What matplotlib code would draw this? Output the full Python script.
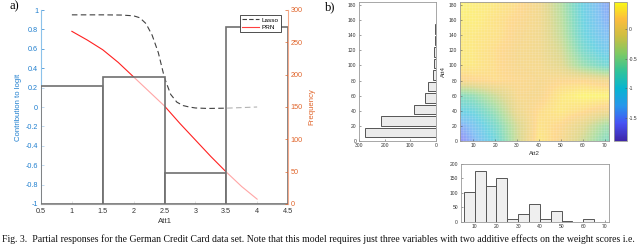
import matplotlib
matplotlib.use('Agg')
import matplotlib.pyplot as plt
import numpy as np
from matplotlib.colors import LinearSegmentedColormap, Normalize
from matplotlib.cm import ScalarMappable
from matplotlib.lines import Line2D
from matplotlib.ticker import MultipleLocator

# ---------------- data ----------------
# panel a
att1_bins = [1, 2, 3, 4]
att1_freq = [183, 197, 48, 273]
lasso_x = [1.0, 1.5, 1.8, 2.0, 2.1, 2.2, 2.3, 2.4, 2.5, 2.6, 2.7, 2.8, 2.9, 3.0, 3.2, 3.5, 3.8, 4.0]
lasso_y = [0.95, 0.95, 0.948, 0.94, 0.92, 0.86, 0.74, 0.56, 0.30, 0.13, 0.05, 0.015, 0.0, -0.01, -0.015, -0.012, -0.005, 0.0]
prn_x = [1.0, 1.25, 1.5, 1.75, 2.0, 2.25, 2.5, 2.75, 3.0, 3.25, 3.5, 3.75, 4.0]
prn_y = [0.78, 0.69, 0.59, 0.46, 0.31, 0.16, 0.01, -0.17, -0.34, -0.51, -0.67, -0.82, -0.95]

# panel b
att4_centers = [10.9, 26.2, 41.5, 56.8, 72.1, 87.4, 102.7, 118.0, 133.3, 148.6]
att4_freq = [276, 213, 86, 43, 32, 11, 7, 7, 3, 3]
att2_left = [5, 10, 15, 20, 25, 30, 35, 40, 45, 50, 55, 60, 65]
att2_freq = [103, 175, 125, 150, 11, 27, 62, 8, 37, 2, 0.5, 10, 0.5]
grid_att2 = [0, 10, 20, 30, 40, 50, 60, 70]          # uniform sample columns
grid_att4 = [0, 20, 40, 60, 80, 100, 120, 140, 160, 180]  # uniform sample rows
effect = [
    [-1.85, -1.40, -0.95, -0.25, 0.30, 0.10, -0.25, -0.70],
    [-1.60, -1.25, -0.80, -0.20, 0.25, 0.15, -0.10, -0.50],
    [-1.05, -0.95, -0.55, 0.00, 0.20, 0.30, 0.20, 0.05],
    [-0.75, -0.60, -0.25, 0.10, 0.10, 0.30, 0.40, 0.40],
    [0.10, 0.15, 0.20, 0.15, 0.10, 0.15, 0.15, 0.05],
    [0.30, 0.30, 0.20, 0.10, 0.08, -0.10, -0.55, -0.85],
    [0.30, 0.30, 0.20, 0.10, 0.05, -0.20, -0.80, -1.15],
    [0.30, 0.30, 0.25, 0.12, 0.05, -0.30, -0.95, -1.30],
    [0.35, 0.35, 0.25, 0.15, 0.05, -0.35, -1.00, -1.40],
    [0.40, 0.35, 0.30, 0.20, 0.05, -0.40, -1.05, -1.45],
]
cbar_ticks = [0, -0.5, -1, -1.5]
cbar_labels = ['0', '-0.5', '-1', '-1.5']

caption = ("Fig. 3.  Partial responses for the German Credit Card data set. Note that this model "
           "requires just three variables with two additive effects on the weight scores i.e.")

# ---------------- style ----------------
plt.rcParams['font.family'] = ['Liberation Sans', 'DejaVu Sans']
plt.rcParams['axes.unicode_minus'] = False
BLUE = '#1f7fcf'
ORANGE = '#e0642a'

W, H = 640, 244
def rect(x0, y0, x1, y1):
    return [x0 / W, 1 - y1 / H, (x1 - x0) / W, (y1 - y0) / H]

fig = plt.figure(figsize=(6.4, 2.44), dpi=100)

# ---------------- panel a ----------------
ax1 = fig.add_axes(rect(41, 10, 288, 204))
ax1.set_xlim(0.5, 4.5)
ax1.set_ylim(-1, 1)
ax1.plot(lasso_x, lasso_y, color='#404040', lw=0.8, ls=(0, (5, 3)))
ax1.plot(prn_x, prn_y, color='#ff2020', lw=0.8)
ax1.set_yticks(np.arange(-1, 1.01, 0.2))
ax1.set_yticklabels(['-1', '-0.8', '-0.6', '-0.4', '-0.2', '0', '0.2', '0.4', '0.6', '0.8', '1'])
ax1.set_xticks(np.arange(0.5, 4.51, 0.5))
ax1.set_xticklabels(['0.5', '1', '1.5', '2', '2.5', '3', '3.5', '4', '4.5'])
ax1.tick_params(axis='y', colors=BLUE, direction='in', length=2, width=0.5, labelsize=5.2, pad=2)
ax1.tick_params(axis='x', color='#999999', labelcolor='#333333', direction='in', length=2, width=0.5, labelsize=5.2, pad=3)
for s in ['top', 'right']:
    ax1.spines[s].set_visible(False)
ax1.spines['left'].set_color('#8cc2ea')
ax1.spines['left'].set_linewidth(0.8)
ax1.spines['bottom'].set_color('#999999')
ax1.spines['bottom'].set_linewidth(0.8)
ax1.set_xlabel('Att1', fontsize=5.6, color='#333333', labelpad=2)
ax1.set_ylabel('Contribution to logit', fontsize=5.6, color=BLUE, labelpad=3)

ax2 = ax1.twinx()
ax2.set_ylim(0, 300)
ax2.bar(att1_bins, att1_freq, width=1.0, facecolor=(1, 1, 1, 0.6), edgecolor='#707070', lw=1.2)
for s in ['top', 'left', 'bottom']:
    ax2.spines[s].set_visible(False)
ax2.spines['right'].set_color('#f4a98a')
ax2.spines['right'].set_linewidth(0.8)
ax2.set_yticks(np.arange(0, 301, 50))
ax2.tick_params(axis='y', colors=ORANGE, direction='in', length=2, width=0.5, labelsize=5.2, pad=2)
ax2.set_ylabel('Frequency', fontsize=5.6, color=ORANGE, labelpad=4)
handles = [Line2D([], [], color='#404040', lw=0.8, ls=(0, (4, 2))),
           Line2D([], [], color='#ff4040', lw=0.8)]
leg = ax2.legend(handles, ['Lasso', 'PRN'], loc='upper right', bbox_to_anchor=(281 / W, 1 - 15 / H),
                 bbox_transform=fig.transFigure, fontsize=4.6, frameon=True, fancybox=False,
                 handlelength=2.6, handletextpad=0.5, borderpad=0.35, labelspacing=0.25,
                 borderaxespad=0)
leg.get_frame().set_edgecolor('#333333')
leg.get_frame().set_linewidth(0.6)
leg.get_frame().set_alpha(1)

# ---------------- panel b ----------------
TICK_FS = 3.6
TP = dict(direction='in', length=1.5, width=0.4, labelsize=TICK_FS, pad=2, color='#555555', labelcolor='#333333')

axh = fig.add_axes(rect(359, 1.5, 435.7, 140.7))
axh.barh(att4_centers, att4_freq, height=12.8, color='#ebebeb', edgecolor='#555555', lw=0.7)
axh.set_xlim(300, 0)
axh.set_ylim(0, 185)
axh.set_xticks([300, 200, 100, 0])
axh.set_yticks(np.arange(0, 181, 20))
axh.tick_params(**TP)
for s in axh.spines.values():
    s.set_color('#999999'); s.set_linewidth(0.6)

cmap = LinearSegmentedColormap.from_list('parula_like', [
    (0.000, (0.2422, 0.1504, 0.6603)),
    (0.125, (0.2810, 0.3228, 0.9579)),
    (0.250, (0.1540, 0.5902, 0.9218)),
    (0.375, (0.0297, 0.7082, 0.8163)),
    (0.500, (0.1900, 0.7650, 0.6000)),
    (0.625, (0.4900, 0.7900, 0.3900)),
    (0.750, (0.8000, 0.7450, 0.2600)),
    (0.875, (0.9900, 0.7400, 0.2400)),
    (1.000, (0.9769, 0.9839, 0.0805)),
])
norm = Normalize(vmin=-1.89, vmax=0.465)

axm = fig.add_axes(rect(460, 1.5, 609.3, 140.7))
dx = grid_att2[1] - grid_att2[0]
dy = grid_att4[1] - grid_att4[0]
axm.imshow(np.array(effect), cmap=cmap, norm=norm, origin='lower', aspect='auto',
           interpolation='bilinear', alpha=0.58,
           extent=(grid_att2[0] - dx / 2, grid_att2[-1] + dx / 2,
                   grid_att4[0] - dy / 2, grid_att4[-1] + dy / 2))
axm.set_xlim(4, 72)
axm.set_ylim(0, 185)
axm.set_xticks(np.arange(10, 71, 10))
axm.set_yticks(np.arange(0, 181, 20))
axm.xaxis.set_minor_locator(MultipleLocator(1.36))
axm.yaxis.set_minor_locator(MultipleLocator(3.7))
axm.grid(which='minor', color='white', alpha=0.18, lw=0.4)
axm.tick_params(which='minor', length=0)
axm.tick_params(**TP)
for s in axm.spines.values():
    s.set_color('#999999'); s.set_linewidth(0.6)
axm.set_xlabel('Att2', fontsize=4.3, color='#333333', labelpad=2)
axm.set_ylabel('Att4', fontsize=4.3, color='#333333', labelpad=2)

cax = fig.add_axes(rect(614, 1.5, 627, 140.7))
sm = ScalarMappable(norm=norm, cmap=cmap)
cb = fig.colorbar(sm, cax=cax)
cb.set_ticks(cbar_ticks)
cb.set_ticklabels(cbar_labels)
cb.ax.tick_params(direction='in', length=1.5, width=0.4, labelsize=TICK_FS, pad=1.5, color='#555555', labelcolor='#333333')
cb.outline.set_edgecolor('#999999')
cb.outline.set_linewidth(0.6)

axb = fig.add_axes(rect(460.7, 164, 609.3, 221.7))
axb.bar(att2_left, att2_freq, width=5, align='edge', color='#efefef', edgecolor='#555555', lw=0.7)
axb.set_xlim(3.5, 72)
axb.set_ylim(0, 200)
axb.set_xticks(np.arange(10, 71, 10))
axb.set_yticks(np.arange(0, 201, 50))
axb.tick_params(**TP)
for s in axb.spines.values():
    s.set_color('#999999'); s.set_linewidth(0.6)

# ---------------- labels / caption ----------------
fig.text(10 / W, 1 - 0.5 / H, 'a)', family=['Liberation Serif', 'DejaVu Serif'], fontsize=9, va='top', ha='left')
fig.text(325 / W, 1 - 1.5 / H, 'b)', family=['Liberation Serif', 'DejaVu Serif'], fontsize=9, va='top', ha='left')
fig.text(2 / W, 2.2 / H, caption, family=['Liberation Serif', 'DejaVu Serif'], fontsize=7.07,
         va='baseline', ha='left', color='#111111')

fig.savefig('out.png', dpi=100)
